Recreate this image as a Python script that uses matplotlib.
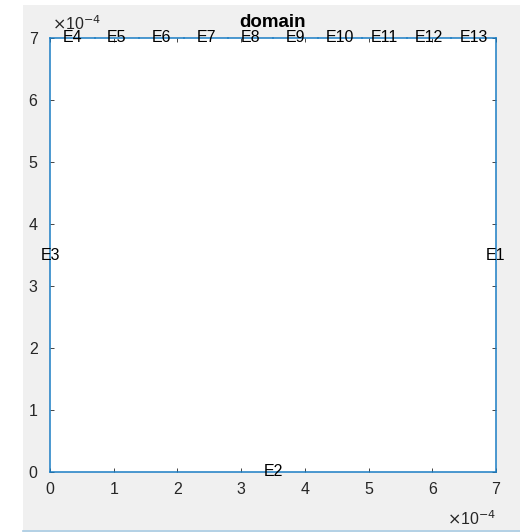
import matplotlib.pyplot as plt
from matplotlib.patches import Rectangle
from matplotlib.lines import Line2D

plt.rcParams['font.family'] = ['Liberation Sans', 'DejaVu Sans']

# domain corners (units of 1e-4)
x_min, x_max = 0.0, 7.0
y_min, y_max = 0.0, 7.0

# top edge is split into segments E4..E13
top_breaks = [0.0, 0.7, 1.4, 2.1, 2.8, 3.5, 4.2, 4.9, 5.6, 6.3, 7.0]
top_labels = ["E4", "E5", "E6", "E7", "E8", "E9", "E10", "E11", "E12", "E13"]
side_labels = ["E1", "E2", "E3"]
ticks = [0, 1, 2, 3, 4, 5, 6, 7]

W, H = 520, 532
fig = plt.figure(figsize=(W / 100, H / 100), dpi=100, facecolor='white')

# MATLAB window grey
fig.patches.append(Rectangle((23 / W, 2 / H), 1 - 23 / W, 1 - 7 / H,
                             transform=fig.transFigure, facecolor='#f0f0f0',
                             edgecolor='none', zorder=-5))
fig.lines.append(Line2D([23 / W, 1], [1.2 / H, 1.2 / H], transform=fig.transFigure,
                        color='#a6c8e0', lw=1.2, zorder=-4))

ax = fig.add_axes([50 / W, 1 - 472 / H, 446 / W, 434 / H])
ax.set_facecolor('white')

blue = '#1a7dc4'
lw = 1.1
ax.plot([x_max, x_max], [y_min, y_max], color=blue, lw=lw, clip_on=False)
ax.plot([x_min, x_max], [y_min, y_min], color=blue, lw=lw, clip_on=False)
ax.plot([x_min, x_min], [y_min, y_max], color=blue, lw=lw, clip_on=False)
for i in range(len(top_labels)):
    ax.plot([top_breaks[i], top_breaks[i + 1]], [y_max, y_max], color=blue, lw=lw,
            clip_on=False)

fs = 11.5
ax.text(x_max, (y_min + y_max) / 2, side_labels[0], ha='center', va='center', fontsize=fs)
ax.text((x_min + x_max) / 2, y_min, side_labels[1], ha='center', va='center', fontsize=fs)
ax.text(x_min, (y_min + y_max) / 2, side_labels[2], ha='center', va='center', fontsize=fs)
for i, lab in enumerate(top_labels):
    ax.text((top_breaks[i] + top_breaks[i + 1]) / 2, y_max, lab,
            ha='center', va='center', fontsize=fs)

ax.set_xlim(x_min, x_max)
ax.set_ylim(y_min, y_max)
ax.set_xticks(ticks)
ax.set_yticks(ticks)
ax.tick_params(direction='in', length=3, width=0.6, labelsize=fs, colors='#262626',
               top=True, right=True)
ax.tick_params(axis='x', pad=7)
ax.tick_params(axis='y', pad=9)
for s in ax.spines.values():
    s.set_visible(False)

ax.set_title("domain", fontsize=13.5, fontweight='bold', pad=8)

# exponent labels
ax.text(0.005, 1.012, r"$\times$10$^{-4}$", transform=ax.transAxes,
        ha='left', va='bottom', fontsize=fs, color='#262626')
ax.text(1.0, -0.085, r"$\times$10$^{-4}$", transform=ax.transAxes,
        ha='right', va='top', fontsize=fs, color='#262626')

fig.savefig("out.png", dpi=100, facecolor=fig.get_facecolor())
